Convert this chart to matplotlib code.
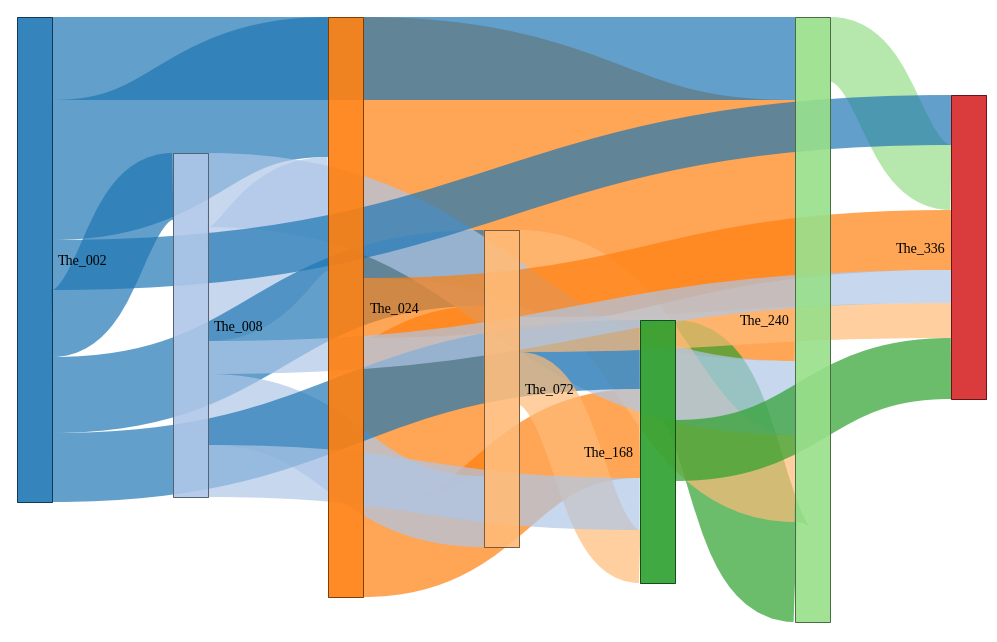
import matplotlib
matplotlib.use("Agg")
import matplotlib.pyplot as plt
from matplotlib.path import Path
from matplotlib.patches import PathPatch, Rectangle

# ---------------- data ----------------
node_names = ["The_002", "The_008", "The_024", "The_072", "The_168", "The_240", "The_336"]
link_source = ["The_002", "The_002", "The_002", "The_002", "The_002", "The_002",
               "The_008", "The_008", "The_008", "The_008", "The_008",
               "The_240",
               "The_024", "The_024", "The_024", "The_024",
               "The_072", "The_072", "The_072",
               "The_168", "The_168"]
link_target = ["The_336", "The_240", "The_168", "The_072", "The_024", "The_008",
               "The_336", "The_240", "The_168", "The_072", "The_024",
               "The_336",
               "The_336", "The_240", "The_168", "The_072",
               "The_336", "The_240", "The_168",
               "The_336", "The_240"]
link_value = [50, 83, 69, 76, 140, 67,
              33, 74, 52, 71, 114,
              65,
              60, 261, 89, 170,
              35, 87, 53,
              61, 100]
node_colors = ["#1f77b4", "#aec7e8", "#ff7f0e", "#ffbb78", "#2ca02c", "#98df8a", "#d62728"]

# ---------------- layout ----------------
W, H = 997, 642
MARGIN_LEFT, MARGIN_TOP = 17, 17
SIZE_W, SIZE_H = 969, 605
NODE_W = 35
FONT_PX = 14
# vertical placement of each node (offset of its top from the top of the plot area, px)
NODE_TOP = {"The_002": 0, "The_008": 136, "The_024": 0, "The_072": 213,
            "The_168": 303, "The_240": 0, "The_336": 78}


def sankey(names, src, tgt, val):
    idx = {n: i for i, n in enumerate(names)}
    nodes = [dict(index=i, name=n, sourceLinks=[], targetLinks=[]) for i, n in enumerate(names)]
    links = []
    for k, (s, t, v) in enumerate(zip(src, tgt, val)):
        l = dict(index=k, source=nodes[idx[s]], target=nodes[idx[t]], value=float(v))
        links.append(l)
        l["source"]["sourceLinks"].append(l)
        l["target"]["targetLinks"].append(l)
    for nd in nodes:
        nd["value"] = max(sum(l["value"] for l in nd["sourceLinks"]),
                          sum(l["value"] for l in nd["targetLinks"]))
    remaining = list(nodes)
    x = 0
    while remaining:
        nxt = []
        for nd in remaining:
            nd["col"] = x
            for l in nd["sourceLinks"]:
                if l["target"] not in nxt:
                    nxt.append(l["target"])
        remaining = nxt
        x += 1
    for nd in nodes:
        if not nd["sourceLinks"]:
            nd["col"] = x - 1
    kx = (SIZE_W - NODE_W) / (x - 1)
    ky = SIZE_H / max(nd["value"] for nd in nodes)
    for nd in nodes:
        nd["x"] = nd["col"] * kx
        nd["y"] = NODE_TOP[nd["name"]]
        nd["dy"] = nd["value"] * ky
    for l in links:
        l["dy"] = l["value"] * ky
    for nd in nodes:
        nd["sourceLinks"].sort(key=lambda l: l["target"]["y"])
        nd["targetLinks"].sort(key=lambda l: l["source"]["y"])
        sy = ty = 0
        for l in nd["sourceLinks"]:
            l["sy"] = sy
            sy += l["dy"]
        for l in nd["targetLinks"]:
            l["ty"] = ty
            ty += l["dy"]
    return nodes, links


nodes, links = sankey(node_names, link_source, link_target, link_value)


def darker(hexc, k=2):
    r, g, b = matplotlib.colors.to_rgb(hexc)
    f = 0.7 ** k
    return (r * f, g * f, b * f)


plt.rcParams['font.family'] = ['Liberation Serif', 'DejaVu Serif']
fig = plt.figure(figsize=(W / 100, H / 100), dpi=100)
ax = fig.add_axes([0, 0, 1, 1])
ax.set_xlim(-MARGIN_LEFT, W - MARGIN_LEFT)
ax.set_ylim(H - MARGIN_TOP, -MARGIN_TOP)
ax.axis('off')

px_to_pt = 72 / fig.dpi
for l in sorted(links, key=lambda l: -l["dy"]):
    x0 = l["source"]["x"] + NODE_W
    x1 = l["target"]["x"]
    xm = (x0 + x1) / 2
    y0 = l["source"]["y"] + l["sy"] + l["dy"] / 2
    y1 = l["target"]["y"] + l["ty"] + l["dy"] / 2
    p = Path([(x0, y0), (xm, y0), (xm, y1), (x1, y1)],
             [Path.MOVETO, Path.CURVE4, Path.CURVE4, Path.CURVE4])
    ax.add_patch(PathPatch(p, fill=False, edgecolor=node_colors[l["source"]["index"]],
                           lw=max(1, l["dy"]) * px_to_pt, alpha=0.7, capstyle='butt'))

for nd in nodes:
    c = node_colors[nd["index"]]
    ax.add_patch(Rectangle((nd["x"], nd["y"]), NODE_W, nd["dy"],
                           facecolor=matplotlib.colors.to_rgba(c, 0.9), edgecolor=darker(c),
                           lw=1 * px_to_pt))
    yb = nd["y"] + nd["dy"] / 2 + 0.35 * FONT_PX
    if nd["x"] < SIZE_W / 2:
        ax.text(nd["x"] + NODE_W + 6, yb, nd["name"], ha='left', va='baseline',
                fontsize=FONT_PX * px_to_pt, color='black')
    else:
        ax.text(nd["x"] - 6, yb, nd["name"], ha='right', va='baseline',
                fontsize=FONT_PX * px_to_pt, color='black')

fig.savefig("out.png", dpi=100)
